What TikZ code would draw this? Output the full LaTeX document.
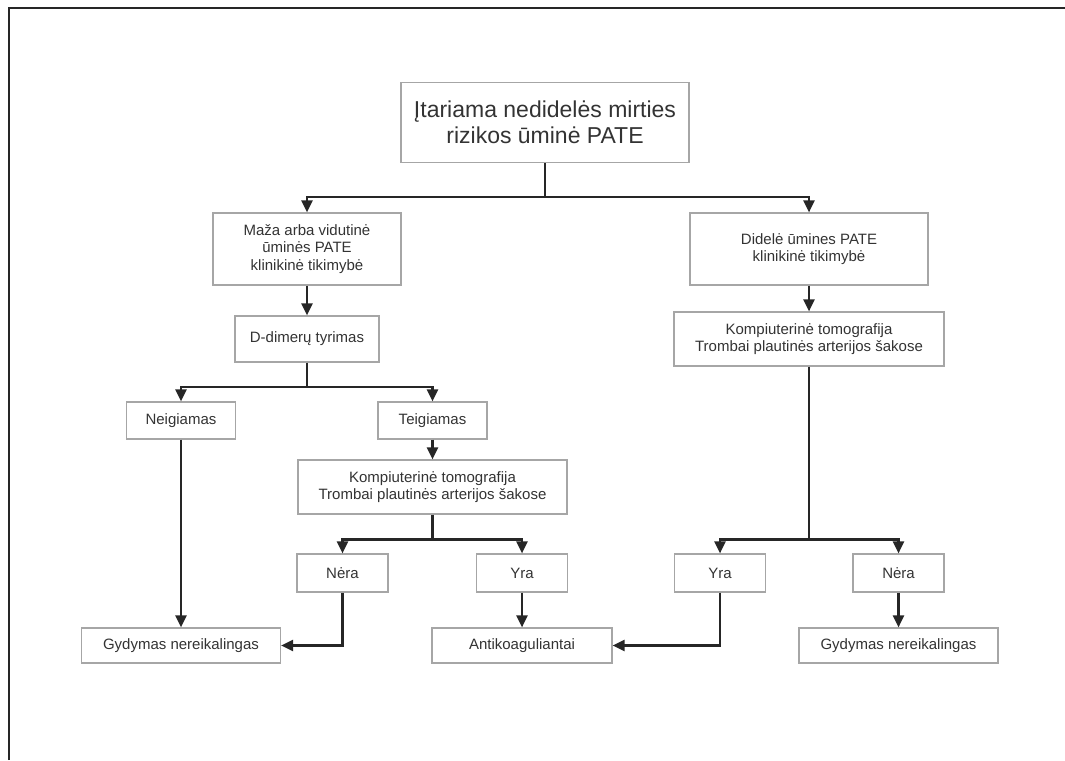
\documentclass[tikz,border=0pt]{standalone}
\usepackage{fontspec}
\setmainfont{Liberation Sans}
\usetikzlibrary{arrows.meta}

\tikzset{
	box/.style={draw=black!35, line width=1.2pt, rectangle, align=center,
		text=black!80, font=\fontsize{15}{17.5}\selectfont, inner sep=0pt},
	arr/.style={draw=black!85, line width=2.2pt,
		-{Triangle[length=12pt, width=11pt]}},
	lin/.style={draw=black!85, line width=2.2pt}
}

\begin{document}
\begin{tikzpicture}[x=1pt, y=-1pt]
	\useasboundingbox (0,0) rectangle (1065,760);
	% rahmen
	\draw[black!85, line width=2pt] (8.5,760) -- (8.5,8.5) -- (1065,8.5);
	% oberste box
	\node[box, minimum width=288pt, minimum height=80pt,
		font=\fontsize{23}{26}\selectfont] (top) at (545,122.5)
		{Įtariama nedidelės mirties\\rizikos ūminė PATE};
	% linker ast
	\node[box, minimum width=188pt, minimum height=72pt] (maza) at (307,249)
		{Maža arba vidutinė\\ūminės PATE\\klinikinė tikimybė};
	\node[box, minimum width=144pt, minimum height=46pt] (ddim) at (307,339)
		{D-dimerų tyrimas};
	\node[box, minimum width=109pt, minimum height=37pt] (neig) at (181,420.5)
		{Neigiamas};
	\node[box, minimum width=109pt, minimum height=37pt] (teig) at (432.5,420.5)
		{Teigiamas};
	\node[box, minimum width=269pt, minimum height=54pt] (kompL) at (432.5,487)
		{Kompiuterinė tomografija\\Trombai plautinės arterijos šakose};
	\node[box, minimum width=91pt, minimum height=38pt] (neraL) at (342.5,573)
		{Nėra};
	\node[box, minimum width=91pt, minimum height=38pt] (yraL) at (522,573)
		{Yra};
	% rechter ast
	\node[box, minimum width=238pt, minimum height=72pt] (didele) at (809,249)
		{Didelė ūmines PATE\\klinikinė tikimybė};
	\node[box, minimum width=270pt, minimum height=54pt] (kompR) at (809,339)
		{Kompiuterinė tomografija\\Trombai plautinės arterijos šakose};
	\node[box, minimum width=91pt, minimum height=38pt] (yraR) at (720,573)
		{Yra};
	\node[box, minimum width=91pt, minimum height=38pt] (neraR) at (898.5,573)
		{Nėra};
	% ergebnisse
	\node[box, minimum width=199pt, minimum height=35pt] (gydL) at (181,645.5)
		{Gydymas nereikalingas};
	\node[box, minimum width=180pt, minimum height=35pt] (anti) at (522,645.5)
		{Antikoaguliantai};
	\node[box, minimum width=199pt, minimum height=35pt] (gydR) at (898.5,645.5)
		{Gydymas nereikalingas};
	% verzweigungen
	\coordinate (j1) at (545,197);
	\coordinate (j2) at (307,387);
	\coordinate (j3) at (432.5,539.5);
	\coordinate (j4) at (809,539.5);
	\draw[lin] (top) -- (j1);
	\draw[arr] (j1) -| (maza);
	\draw[arr] (j1) -| (didele);
	\draw[arr] (maza) -- (ddim);
	\draw[lin] (ddim) -- (j2);
	\draw[arr] (j2) -| (neig);
	\draw[arr] (j2) -| (teig);
	\draw[arr] (teig) -- (kompL);
	\draw[lin] (kompL) -- (j3);
	\draw[arr] (j3) -| (neraL);
	\draw[arr] (j3) -| (yraL);
	\draw[arr] (didele) -- (kompR);
	\draw[lin] (kompR) -- (j4);
	\draw[arr] (j4) -| (yraR);
	\draw[arr] (j4) -| (neraR);
	% zu den ergebnissen
	\draw[arr] (neig) -- (gydL);
	\draw[arr] (neraL) |- (gydL);
	\draw[arr] (yraL) -- (anti);
	\draw[arr] (yraR) |- (anti);
	\draw[arr] (neraR) -- (gydR);
\end{tikzpicture}
\end{document}
